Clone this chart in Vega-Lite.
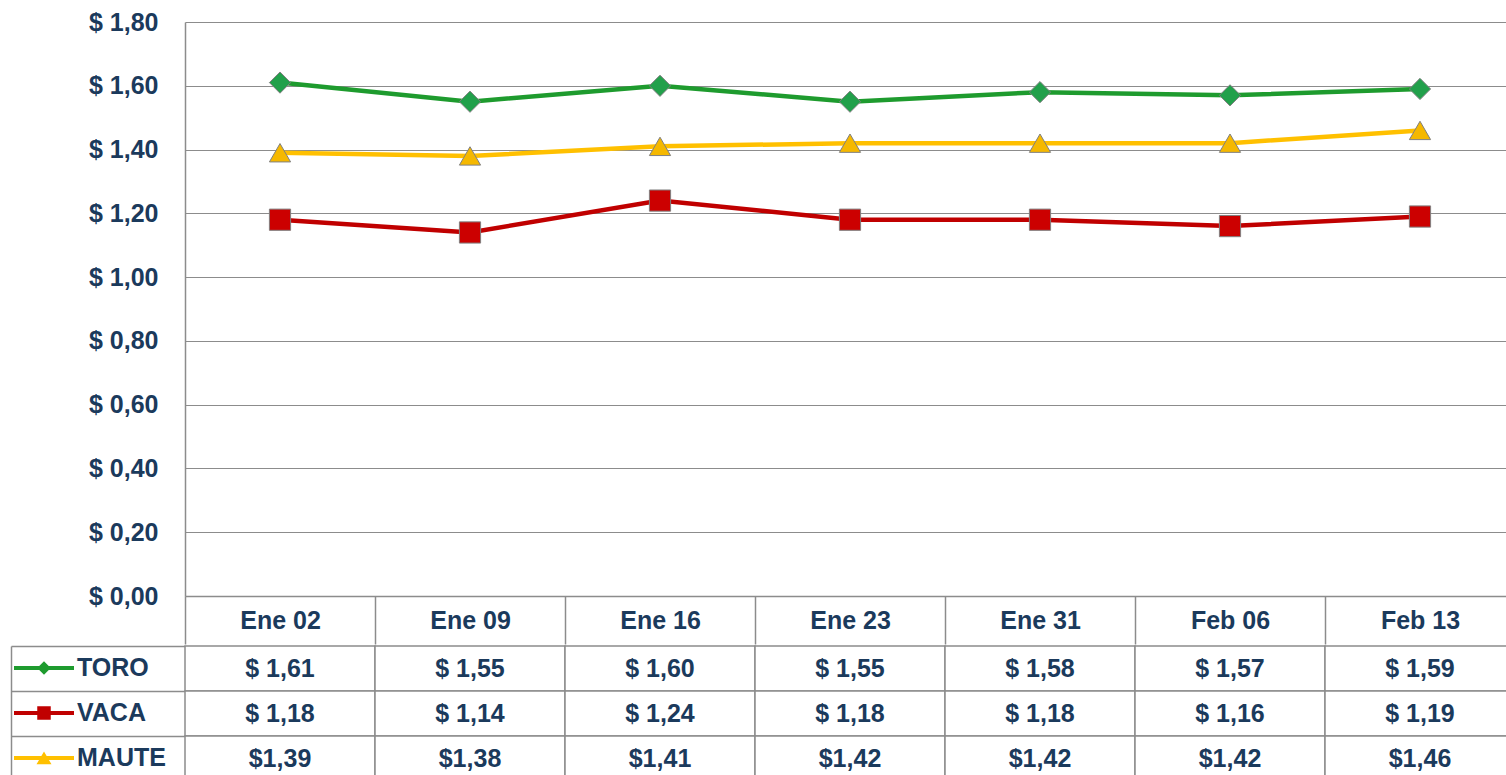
{
  "$schema": "https://vega.github.io/schema/vega-lite/v6.json",
  "background": "white",
  "padding": {"left": 10, "top": 10, "right": 0, "bottom": 0},
  "spacing": 0,
  "config": {
    "view": {"stroke": null},
    "font": "Liberation Sans",
    "axis": {
      "labelFont": "Liberation Sans",
      "labelFontWeight": "bold",
      "labelColor": "#1B3A5C",
      "labelFontSize": 25,
      "domainColor": "#8c8c8c",
      "gridColor": "#8c8c8c",
      "tickColor": "#8c8c8c",
      "domainWidth": 1.5,
      "tickWidth": 1.5,
      "gridWidth": 1,
      "title": null
    }
  },
  "datasets": {
    "precios": [
      {"fecha": "Ene 02", "serie": "TORO", "valor": 1.61},
      {"fecha": "Ene 09", "serie": "TORO", "valor": 1.55},
      {"fecha": "Ene 16", "serie": "TORO", "valor": 1.60},
      {"fecha": "Ene 23", "serie": "TORO", "valor": 1.55},
      {"fecha": "Ene 31", "serie": "TORO", "valor": 1.58},
      {"fecha": "Feb 06", "serie": "TORO", "valor": 1.57},
      {"fecha": "Feb 13", "serie": "TORO", "valor": 1.59},
      {"fecha": "Ene 02", "serie": "VACA", "valor": 1.18},
      {"fecha": "Ene 09", "serie": "VACA", "valor": 1.14},
      {"fecha": "Ene 16", "serie": "VACA", "valor": 1.24},
      {"fecha": "Ene 23", "serie": "VACA", "valor": 1.18},
      {"fecha": "Ene 31", "serie": "VACA", "valor": 1.18},
      {"fecha": "Feb 06", "serie": "VACA", "valor": 1.16},
      {"fecha": "Feb 13", "serie": "VACA", "valor": 1.19},
      {"fecha": "Ene 02", "serie": "MAUTE", "valor": 1.39},
      {"fecha": "Ene 09", "serie": "MAUTE", "valor": 1.38},
      {"fecha": "Ene 16", "serie": "MAUTE", "valor": 1.41},
      {"fecha": "Ene 23", "serie": "MAUTE", "valor": 1.42},
      {"fecha": "Ene 31", "serie": "MAUTE", "valor": 1.42},
      {"fecha": "Feb 06", "serie": "MAUTE", "valor": 1.42},
      {"fecha": "Feb 13", "serie": "MAUTE", "valor": 1.46}
    ]
  },
  "vconcat": [
    {
      "width": 1330,
      "height": 574,
      "data": {"name": "precios"},
      "encoding": {
        "x": {
          "field": "fecha",
          "type": "ordinal",
          "sort": ["Ene 02", "Ene 09", "Ene 16", "Ene 23", "Ene 31", "Feb 06", "Feb 13"],
          "scale": {"type": "band", "paddingInner": 0, "paddingOuter": 0},
          "axis": {
            "orient": "bottom",
            "labelAngle": 0,
            "tickBand": "extent",
            "tickSize": 48,
            "labelBaseline": "middle",
            "labelPadding": -24,
            "grid": false,
            "title": null
          }
        },
        "y": {
          "field": "valor",
          "type": "quantitative",
          "scale": {"domain": [0, 1.8], "nice": false},
          "axis": {
            "values": [0, 0.2, 0.4, 0.6, 0.8, 1.0, 1.2, 1.4, 1.6, 1.8],
            "labelExpr": "'$ ' + replace(format(datum.value, '.2f'), '.', ',')",
            "grid": true,
            "ticks": false,
            "domain": true,
            "labelPadding": 27,
            "title": null
          }
        }
      },
      "layer": [
        {
          "mark": {"type": "line", "strokeWidth": 4.5},
          "encoding": {
            "color": {
              "field": "serie",
              "type": "nominal",
              "scale": {"domain": ["TORO", "VACA", "MAUTE"], "range": ["#1E9B2E", "#C00000", "#FFC000"]},
              "legend": {
                "orient": "none",
                "legendX": -156,
                "legendY": 631,
                "title": null,
                "direction": "vertical",
                "symbolSize": 900,
                "rowPadding": 17,
                "labelOffset": 18,
                "padding": 0,
                "labelFont": "Liberation Sans",
                "labelFontSize": 25,
                "labelFontWeight": "bold",
                "labelColor": "#1B3A5C",
                "encoding": {
                  "symbols": {
                    "shape": {"value": {"expr": "datum.value === 'TORO' ? 'M-2,-0.13L2,-0.13L2,0.13L-2,0.13Z M0,-0.45L0.45,0L0,0.45L-0.45,0Z' : datum.value === 'VACA' ? 'M-2,-0.13L2,-0.13L2,0.13L-2,0.13Z M-0.45,-0.45L0.45,-0.45L0.45,0.45L-0.45,0.45Z' : 'M-2,-0.13L2,-0.13L2,0.13L-2,0.13Z M0,-0.44L0.5,0.42L-0.5,0.42Z'"}},
                    "fill": {"value": {"expr": "datum.value === 'TORO' ? '#1E9B2E' : datum.value === 'VACA' ? '#C00000' : '#FFC000'"}},
                    "stroke": {"value": "transparent"},
                    "strokeWidth": {"value": 0},
                    "opacity": {"value": 1}
                  }
                }
              }
            }
          }
        },
        {
          "mark": {"type": "point", "filled": true, "size": 450, "opacity": 1, "stroke": "#808080", "strokeWidth": 1},
          "encoding": {
            "fill": {
              "field": "serie",
              "type": "nominal",
              "scale": {"domain": ["VACA", "TORO", "MAUTE"], "range": ["#CC0000", "#22A04B", "#F5B800"]},
              "legend": null
            },
            "shape": {
              "field": "serie",
              "type": "nominal",
              "scale": {"domain": ["MAUTE", "VACA", "TORO"], "range": ["triangle-up", "square", "diamond"]},
              "legend": null
            }
          }
        }
      ]
    },
    {
      "width": 1330,
      "height": 135,
      "data": {"name": "precios"},
      "encoding": {
        "x": {
          "field": "fecha",
          "type": "ordinal",
          "sort": ["Ene 02", "Ene 09", "Ene 16", "Ene 23", "Ene 31", "Feb 06", "Feb 13"],
          "scale": {"type": "band", "paddingInner": 0, "paddingOuter": 0},
          "axis": null
        }
      },
      "layer": [
        {
          "mark": {"type": "rect", "fill": "white", "stroke": "#8c8c8c", "strokeWidth": 1.5},
          "encoding": {
            "y": {
              "field": "serie",
              "type": "nominal",
              "sort": ["TORO", "VACA", "MAUTE"],
              "scale": {"type": "band", "paddingInner": 0, "paddingOuter": 0},
              "axis": {"orient": "left", "offset": 174, "domain": true, "ticks": false, "labels": false, "grid": false, "title": null}
            }
          }
        },
        {
          "mark": {
            "type": "text",
            "font": "Liberation Sans",
            "fontSize": 25,
            "fontWeight": "bold",
            "color": "#1B3A5C",
            "text": {"expr": "(datum.serie === 'MAUTE' ? '$' : '$ ') + replace(format(datum.valor, '.2f'), '.', ',')"}
          },
          "encoding": {
            "y": {
              "field": "serie",
              "type": "nominal",
              "sort": ["TORO", "VACA", "MAUTE"],
              "scale": {"type": "band", "paddingInner": 0, "paddingOuter": 0},
              "axis": {"orient": "left", "domain": false, "ticks": true, "tickSize": 174, "tickBand": "extent", "labels": false, "grid": false, "title": null}
            }
          }
        }
      ],
      "resolve": {"axis": {"y": "independent"}}
    }
  ]
}
